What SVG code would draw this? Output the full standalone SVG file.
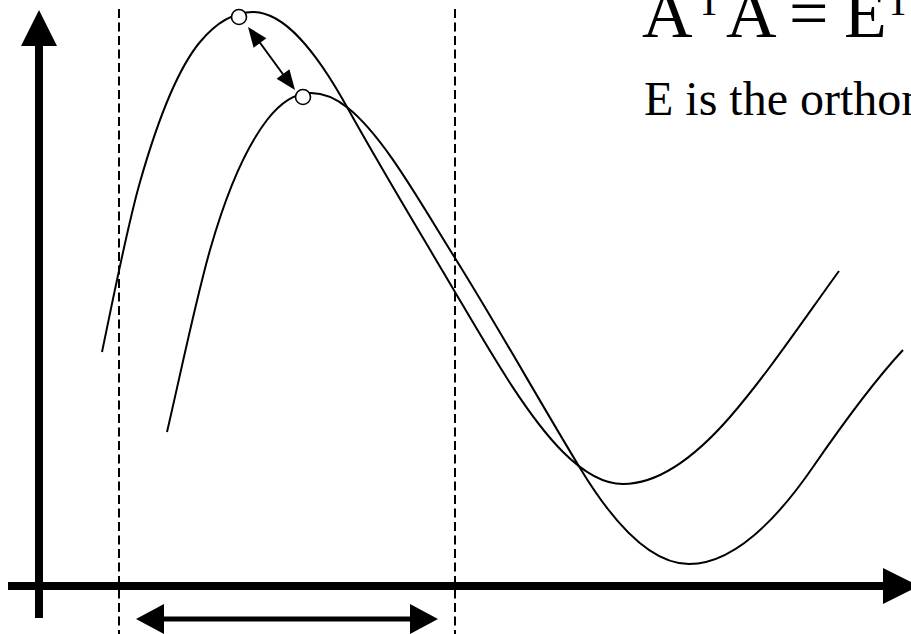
<svg xmlns="http://www.w3.org/2000/svg" width="911" height="634" viewBox="0 0 911 634">
<style>
.curve{fill:none;stroke:#000;stroke-width:2}
.dash{fill:none;stroke:#000;stroke-width:2;stroke-dasharray:9 4.5}
.axis{stroke:#000;stroke-width:8}
.head{fill:#000}
.pt{fill:#fff;stroke:#000;stroke-width:1.6}
text{font-family:"Liberation Serif","Times New Roman",serif;fill:#000}
</style>
<rect width="911" height="634" fill="#fff"/>
<g id="guides">
<line class="dash" x1="119" y1="9" x2="119" y2="634"/>
<line class="dash" x1="455" y1="9" x2="455" y2="634"/>
</g>
<g id="axes">
<line class="axis" x1="39" y1="618" x2="39" y2="44"/>
<polygon class="head" points="39,10 21,46 57,46"/>
<line class="axis" x1="8" y1="586" x2="885" y2="586"/>
<polygon class="head" points="883,568 883,604 919,586"/>
</g>
<g id="curveA">
<path class="curve" d="M102,352 C114.7,291.2 127.3,226.3 140,182 C160,112 180,66 200,42 C217.7,20.8 235.3,12 253,12 C284.3,12 315.7,50.6 347,107 C383,171.8 419,230.8 455,292 C491,353.2 527,416 563,452 C583,472 603,484 623,484 C658.7,484 694.3,458 730,417 C766.3,375.2 802.7,321.1 839,271"/>
</g>
<g id="curveB">
<path class="curve" d="M167,432 C181.3,370.4 195.7,300.2 210,250 C229,183.5 248,144.7 267,120 C281.7,100.9 296.3,93 311,93 C323.3,93 335.7,98.1 348,108 C383.7,136.5 419.3,200.9 455,258 C496.7,324.7 538.3,399.25 580,468 C616.3,528 652.7,564 689,564 C730.3,564 771.7,527 813,467 C843,423.5 873,382.1 903,350"/>
</g>
<g id="peakA"><circle class="pt" cx="239" cy="17" r="7.5"/></g>
<g id="peakB"><circle class="pt" cx="303" cy="97" r="7.5"/></g>
<g id="connectors">
<line x1="258" y1="40" x2="285" y2="77" stroke="#000" stroke-width="2"/>
<polygon class="head" points="248,27 266.4,38.2 253.6,47.8"/>
<polygon class="head" points="295,90 289.4,69.2 276.6,78.8"/>
<line x1="160" y1="619" x2="414" y2="619" stroke="#000" stroke-width="5"/>
<polygon class="head" points="136,619 164,604 164,634"/>
<polygon class="head" points="438,619 410,604 410,634"/>
</g>
<g id="labels">
<text x="642" y="37" font-size="70">A</text>
<text x="697" y="15" font-size="40">T</text>
<text x="726" y="37" font-size="70">A</text>
<text x="789" y="37" font-size="70">=</text>
<text x="844" y="37" font-size="70">E</text>
<text x="886" y="15" font-size="40">T</text>
<text x="644" y="115" font-size="48">E is the orthon</text>
</g>
</svg>
